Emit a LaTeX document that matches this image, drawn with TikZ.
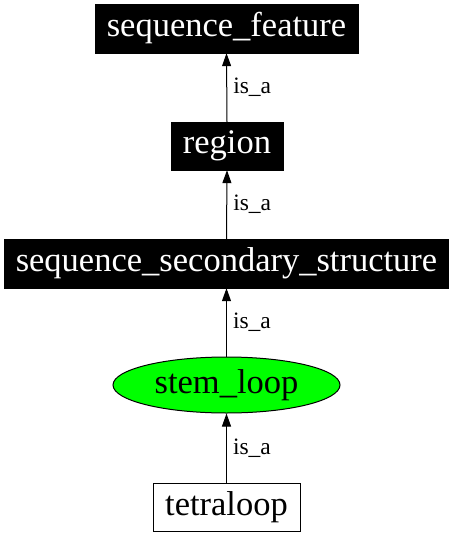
\documentclass[tikz,border=0pt]{standalone}
\usepackage{fontspec}
\setmainfont{Liberation Serif}
\usetikzlibrary{arrows.meta,shapes.geometric}
\definecolor{nodegreen}{HTML}{00FF00}
\tikzset{
  mainfont/.style={font=\fontsize{34.5}{37}\selectfont},
  blackbox/.style={rectangle,fill=black,draw=black,text=white,inner sep=0pt,mainfont},
  whitebox/.style={rectangle,fill=white,draw=black,line width=1pt,text=black,inner sep=0pt,mainfont},
  greenell/.style={ellipse,fill=nodegreen,draw=black,line width=1pt,inner sep=0pt,mainfont},
  isa/.style={-{Triangle[length=13pt,width=9pt]},line width=1pt},
  elabel/.style={font=\fontsize{23.5}{25}\selectfont,anchor=west,inner sep=0pt}
}
\begin{document}
\begin{tikzpicture}[x=1pt,y=-1pt]
\useasboundingbox (0,0) rectangle (453,536);
\node[blackbox,minimum width=263pt,minimum height=49pt] (sf) at (226.5,28.5) {sequence\_feature};
\node[blackbox,minimum width=112pt,minimum height=48pt] (rg) at (227,146) {region};
\node[blackbox,minimum width=444pt,minimum height=49pt] (sss) at (226.5,263.5) {sequence\_secondary\_structure};
\node[greenell,minimum width=227pt,minimum height=56pt] (sl) at (226.5,385) {stem\_loop};
\node[whitebox,minimum width=147pt,minimum height=48pt] (tl) at (226.5,507) {tetraloop};
\draw[isa] (rg.north) -- (sf.south) node[midway,elabel,xshift=6pt] (l1) {is\_a};
\draw[isa] (sss.north) -- (rg.south) node[midway,elabel,xshift=6pt] (l2) {is\_a};
\draw[isa] (sl.north) -- (sss.south) node[midway,elabel,xshift=6pt] (l3) {is\_a};
\draw[isa] (tl.north) -- (sl.south) node[midway,elabel,xshift=6pt] (l4) {is\_a};
\end{tikzpicture}
\end{document}
